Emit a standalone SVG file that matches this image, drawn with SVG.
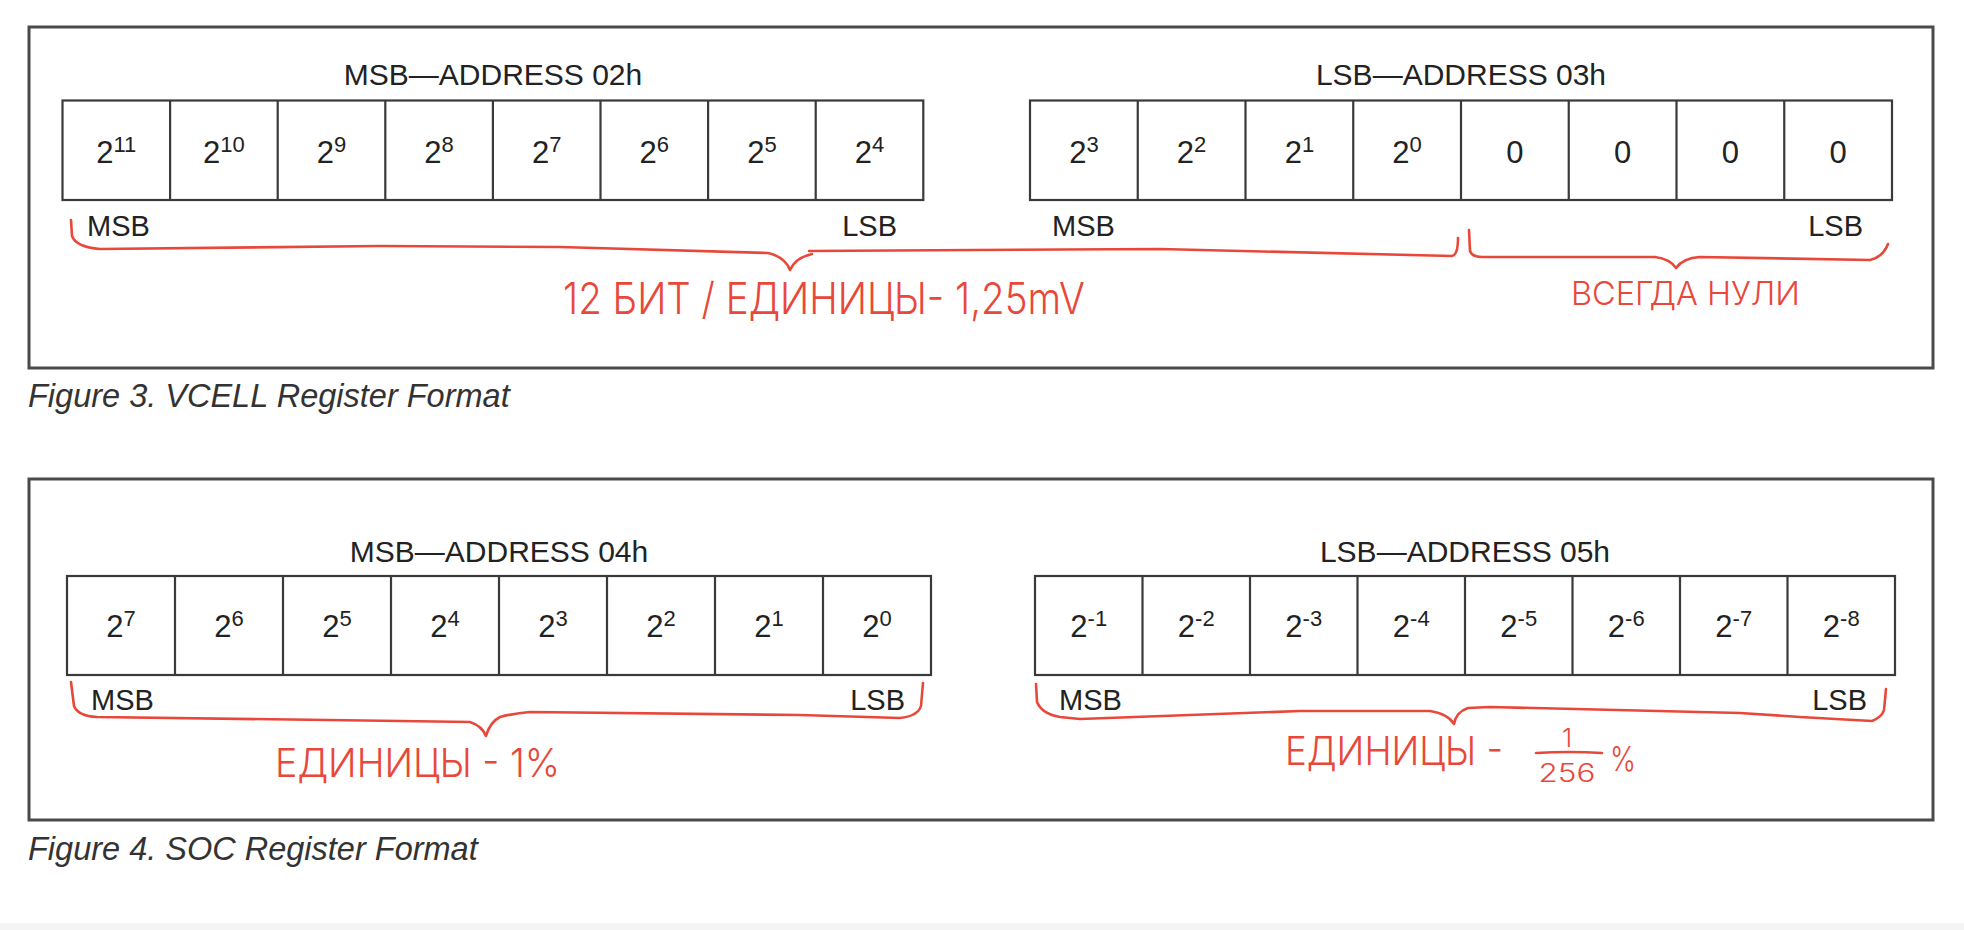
<svg xmlns="http://www.w3.org/2000/svg" width="1964" height="930" viewBox="0 0 1964 930">
<style>
.frame{fill:none;stroke:#4a4a4a;stroke-width:3}
.cell{fill:#fff;stroke:#3a3a3a;stroke-width:2.2}
.title{font-family:"Liberation Sans",Arial,sans-serif;font-size:30px;fill:#222;text-anchor:middle}
.bit{font-family:"Liberation Sans",Arial,sans-serif;font-size:31px;fill:#222;text-anchor:middle}
.sup{font-size:22px}
.lbl{font-family:"Liberation Sans",Arial,sans-serif;font-size:29px;fill:#222}
.end{text-anchor:end}
.cap{font-family:"Liberation Sans",Arial,sans-serif;font-style:italic;font-size:32.5px;fill:#333}
.brace{fill:none;stroke:#e8483a;stroke-width:2.6;stroke-linecap:round;stroke-linejoin:round}
.hand{font-family:"Inter","DejaVu Sans",sans-serif;font-weight:300;fill:#e8483a}
</style>
<rect width="1964" height="930" fill="#ffffff"/>
<rect x="0" y="923" width="1964" height="7" fill="#f4f4f4"/>

<g id="vcell-frame">
<rect class="frame" x="29" y="27" width="1904" height="341"/>
<text class="cap" x="28" y="407">Figure 3. VCELL Register Format</text>
</g>

<g id="vcell-msb">
<text class="title" x="493" y="85">MSB—ADDRESS 02h</text>
<rect class="cell" x="62.5" y="100.5" width="860.8" height="99.5"/>
<path class="cell" d="M170.1 100.5V200M277.7 100.5V200M385.3 100.5V200M492.9 100.5V200M600.5 100.5V200M708.1 100.5V200M815.7 100.5V200"/>
<text class="bit" x="116.3" y="162.5">2<tspan class="sup" dy="-11">11</tspan></text>
<text class="bit" x="223.9" y="162.5">2<tspan class="sup" dy="-11">10</tspan></text>
<text class="bit" x="331.5" y="162.5">2<tspan class="sup" dy="-11">9</tspan></text>
<text class="bit" x="439.1" y="162.5">2<tspan class="sup" dy="-11">8</tspan></text>
<text class="bit" x="546.7" y="162.5">2<tspan class="sup" dy="-11">7</tspan></text>
<text class="bit" x="654.3" y="162.5">2<tspan class="sup" dy="-11">6</tspan></text>
<text class="bit" x="761.9" y="162.5">2<tspan class="sup" dy="-11">5</tspan></text>
<text class="bit" x="869.5" y="162.5">2<tspan class="sup" dy="-11">4</tspan></text>
<text class="lbl" x="87" y="236">MSB</text>
<text class="lbl end" x="897" y="236">LSB</text>
</g>

<g id="vcell-lsb">
<text class="title" x="1461" y="85">LSB—ADDRESS 03h</text>
<rect class="cell" x="1030" y="100.5" width="862" height="99.5"/>
<path class="cell" d="M1137.75 100.5V200M1245.5 100.5V200M1353.25 100.5V200M1461 100.5V200M1568.75 100.5V200M1676.5 100.5V200M1784.25 100.5V200"/>
<text class="bit" x="1083.9" y="162.5">2<tspan class="sup" dy="-11">3</tspan></text>
<text class="bit" x="1191.6" y="162.5">2<tspan class="sup" dy="-11">2</tspan></text>
<text class="bit" x="1299.4" y="162.5">2<tspan class="sup" dy="-11">1</tspan></text>
<text class="bit" x="1407.1" y="162.5">2<tspan class="sup" dy="-11">0</tspan></text>
<text class="bit" x="1514.9" y="162.5">0</text>
<text class="bit" x="1622.6" y="162.5">0</text>
<text class="bit" x="1730.4" y="162.5">0</text>
<text class="bit" x="1838.1" y="162.5">0</text>
<text class="lbl" x="1052" y="236">MSB</text>
<text class="lbl end" x="1863" y="236">LSB</text>
</g>

<g id="soc-frame">
<rect class="frame" x="29" y="479" width="1904" height="341"/>
<text class="cap" x="28" y="860">Figure 4. SOC Register Format</text>
</g>

<g id="soc-msb">
<text class="title" x="499" y="562">MSB—ADDRESS 04h</text>
<rect class="cell" x="67" y="576" width="864" height="99"/>
<path class="cell" d="M175 576V675M283 576V675M391 576V675M499 576V675M607 576V675M715 576V675M823 576V675"/>
<text class="bit" x="121" y="637">2<tspan class="sup" dy="-11">7</tspan></text>
<text class="bit" x="229" y="637">2<tspan class="sup" dy="-11">6</tspan></text>
<text class="bit" x="337" y="637">2<tspan class="sup" dy="-11">5</tspan></text>
<text class="bit" x="445" y="637">2<tspan class="sup" dy="-11">4</tspan></text>
<text class="bit" x="553" y="637">2<tspan class="sup" dy="-11">3</tspan></text>
<text class="bit" x="661" y="637">2<tspan class="sup" dy="-11">2</tspan></text>
<text class="bit" x="769" y="637">2<tspan class="sup" dy="-11">1</tspan></text>
<text class="bit" x="877" y="637">2<tspan class="sup" dy="-11">0</tspan></text>
<text class="lbl" x="91" y="710">MSB</text>
<text class="lbl end" x="905" y="710">LSB</text>
</g>

<g id="soc-lsb">
<text class="title" x="1465" y="562">LSB—ADDRESS 05h</text>
<rect class="cell" x="1035" y="576" width="860" height="99"/>
<path class="cell" d="M1142.5 576V675M1250 576V675M1357.5 576V675M1465 576V675M1572.5 576V675M1680 576V675M1787.5 576V675"/>
<text class="bit" x="1088.75" y="637">2<tspan class="sup" dy="-11">-1</tspan></text>
<text class="bit" x="1196.25" y="637">2<tspan class="sup" dy="-11">-2</tspan></text>
<text class="bit" x="1303.75" y="637">2<tspan class="sup" dy="-11">-3</tspan></text>
<text class="bit" x="1411.25" y="637">2<tspan class="sup" dy="-11">-4</tspan></text>
<text class="bit" x="1518.75" y="637">2<tspan class="sup" dy="-11">-5</tspan></text>
<text class="bit" x="1626.25" y="637">2<tspan class="sup" dy="-11">-6</tspan></text>
<text class="bit" x="1733.75" y="637">2<tspan class="sup" dy="-11">-7</tspan></text>
<text class="bit" x="1841.25" y="637">2<tspan class="sup" dy="-11">-8</tspan></text>
<text class="lbl" x="1059" y="710">MSB</text>
<text class="lbl end" x="1867" y="710">LSB</text>
</g>

<g id="braces">
<path class="brace" d="M71 220L72 236Q76 247 100 249L380 246L560 247L768 253Q785 257 790 270Q795 258 812 254"/>
<path class="brace" d="M809 251L1160 249L1452 256Q1458 255 1458 238"/>
<path class="brace" d="M1469 230L1470 251Q1472 257 1482 257L1655 257Q1670 259 1676 268Q1683 258 1700 257L1870 260Q1883 257 1888 244"/>
<path class="brace" d="M71 682L74 706Q78 716 97 717L400 721L470 722Q482 726 486 736Q490 722 500 717Q515 713 530 712L800 715L900 718Q918 716 921 706L923 683"/>
<path class="brace" d="M1036 684L1037 702Q1042 714 1060 717L1080 719L1300 711L1430 711Q1448 714 1454 724Q1456 712 1468 708L1490 707L1740 713L1800 717L1872 721Q1882 717 1884 710L1886 689"/>
<path class="brace" d="M1536 753Q1570 751 1602 753"/>
</g>

<g id="notes">
<text class="hand" x="563" y="314" font-size="44" textLength="522" lengthAdjust="spacingAndGlyphs">12 БИТ / ЕДИНИЦЫ- 1,25mV</text>
<text class="hand" x="1571" y="305" font-size="33" textLength="229" lengthAdjust="spacingAndGlyphs">ВСЕГДА НУЛИ</text>
<text class="hand" x="275" y="777" font-size="40" textLength="285" lengthAdjust="spacingAndGlyphs">ЕДИНИЦЫ - 1%</text>
<text class="hand" x="1285" y="765" font-size="40" textLength="218" lengthAdjust="spacingAndGlyphs">ЕДИНИЦЫ -</text>
<text class="hand" x="1567" y="747" font-size="26" text-anchor="middle">1</text>
<text class="hand" x="1567" y="782" font-size="25" text-anchor="middle" textLength="57" lengthAdjust="spacingAndGlyphs">256</text>
<text class="hand" x="1610" y="771" font-size="34" textLength="26" lengthAdjust="spacingAndGlyphs">%</text>
</g>
</svg>
